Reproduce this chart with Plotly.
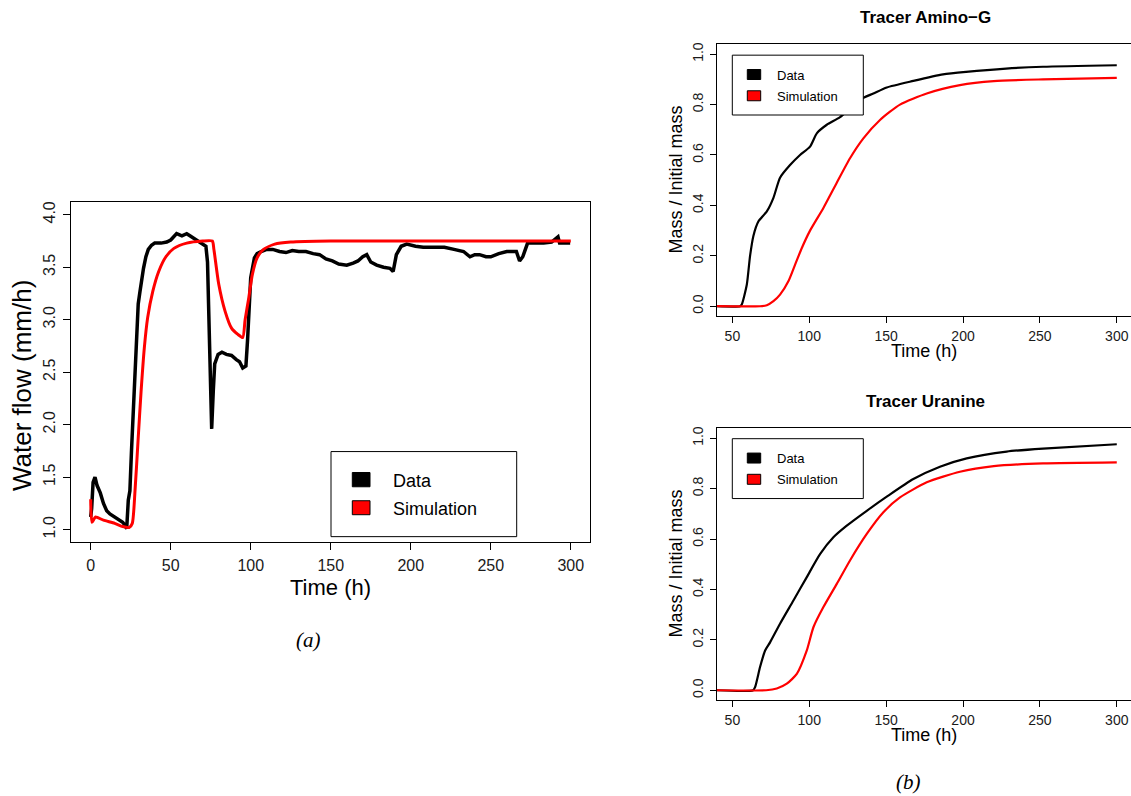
import plotly.graph_objects as go

W, H = 1131, 796

# ---------------- Panel (a): water flow ----------------
flow_time_data = [0, 0.6, 1.5, 2.7, 4, 6, 8, 10, 12, 14, 16, 18, 20, 21.5, 22.5, 23.5, 24.5,
                  25.5, 26.6, 27.6, 28.7, 29.7, 30.8, 32, 33, 34.5, 36, 38, 40, 44, 47.5, 50,
                  53.7, 57, 60, 62, 64, 67, 70, 72, 73, 74, 75, 75.6, 76.6, 77.5, 79.6, 82,
                  84.8, 88, 91, 93, 95, 97, 98, 99, 100, 102.3, 104, 106.5, 110, 113.8, 118,
                  122, 126, 130, 134.5, 139, 143, 147, 151, 155, 160, 164, 167, 170, 172.5,
                  175, 178.7, 183, 187, 189, 191, 194, 197.5, 203, 207.8, 214, 221, 227, 233,
                  237, 240, 243, 247, 250, 255, 260, 266, 268, 270, 273, 278, 283, 288, 292,
                  293, 296, 299.6]
flow_data = [1.12, 1.2, 1.45, 1.50, 1.42, 1.35, 1.25, 1.18, 1.15, 1.13, 1.11, 1.09, 1.07, 1.04,
             1.01, 1.28, 1.37, 1.75, 2.16, 2.55, 2.96, 3.15, 3.27, 3.40, 3.49, 3.60, 3.67, 3.71,
             3.73, 3.73, 3.74, 3.76, 3.82, 3.80, 3.82, 3.80, 3.78, 3.75, 3.72, 3.70, 3.55, 2.80,
             2.30, 1.96, 2.32, 2.58, 2.67, 2.69, 2.67, 2.66, 2.62, 2.60, 2.54, 2.56, 2.80, 3.10,
             3.40, 3.59, 3.63, 3.65, 3.67, 3.67, 3.65, 3.64, 3.66, 3.65, 3.65, 3.63, 3.62, 3.58,
             3.56, 3.53, 3.52, 3.54, 3.56, 3.60, 3.62, 3.55, 3.52, 3.50, 3.49, 3.46, 3.62, 3.70,
             3.72, 3.70, 3.69, 3.69, 3.69, 3.67, 3.65, 3.60, 3.62, 3.62, 3.60, 3.60, 3.63, 3.65,
             3.65, 3.56, 3.60, 3.73, 3.73, 3.73, 3.74, 3.79, 3.73, 3.73, 3.73]

flow_time_sim = [0, 0.8, 3, 8, 15, 20, 24, 26, 27.7, 29.6, 31.5, 33.5, 35.6, 38.8, 42.5, 47, 52,
                 60, 70, 76, 77, 80, 84, 88, 92, 95, 96.5, 98.8, 101, 104, 108, 115, 125, 150,
                 200, 250, 300]
flow_sim = [1.29, 1.07, 1.12, 1.09, 1.06, 1.03, 1.02, 1.06, 1.37, 1.85, 2.32, 2.73, 3.02, 3.27,
            3.46, 3.60, 3.68, 3.73, 3.75, 3.75, 3.67, 3.34, 3.08, 2.92, 2.86, 2.83, 3.00, 3.21,
            3.43, 3.59, 3.67, 3.72, 3.74, 3.75, 3.75, 3.75, 3.75]

flow_xticks = [0, 50, 100, 150, 200, 250, 300]
flow_yticks = [1.0, 1.5, 2.0, 2.5, 3.0, 3.5, 4.0]

# ---------------- Panel (b): tracers ----------------
amino_time_data = [40, 55, 56.1, 59.4, 61.5, 63.7, 66.9, 72.4, 76.7, 81, 87.5, 94, 100.5, 104.9,
                   111.4, 120, 133, 141.7, 150.4, 167.7, 187, 202, 228, 252, 300]
amino_data = [0, 0, 0.007, 0.086, 0.20, 0.28, 0.336, 0.376, 0.43, 0.51, 0.56, 0.60, 0.633, 0.686,
              0.72, 0.75, 0.82, 0.844, 0.868, 0.894, 0.92, 0.93, 0.943, 0.95, 0.956]
amino_time_sim = [40, 68, 72.4, 76.7, 81, 86.5, 90.8, 95.1, 100.5, 109.2, 117.9, 126.5, 135.2,
                  146, 159, 176.4, 198, 220, 252, 300]
amino_sim = [0, 0, 0.004, 0.02, 0.046, 0.10, 0.165, 0.23, 0.30, 0.39, 0.49, 0.587, 0.666, 0.739,
             0.80, 0.844, 0.877, 0.893, 0.90, 0.906]

uranine_time_data = [40, 63.5, 64.8, 68, 71.3, 74.5, 81, 89.7, 98.4, 107, 115.7, 124.4, 137.4,
                     150.4, 167.7, 185, 202.4, 228.4, 252, 300]
uranine_data = [0, 0, 0.013, 0.092, 0.158, 0.19, 0.264, 0.356, 0.449, 0.54, 0.607, 0.653, 0.712,
                0.768, 0.838, 0.887, 0.92, 0.947, 0.959, 0.976]
uranine_time_sim = [40, 72, 78.9, 85.4, 92, 98.4, 102.7, 109.2, 117.9, 126.5, 137.4, 148.2, 159,
                    176.4, 198, 220, 252, 300]
uranine_sim = [0, 0, 0.007, 0.026, 0.066, 0.158, 0.25, 0.33, 0.422, 0.515, 0.62, 0.706, 0.765,
               0.825, 0.867, 0.889, 0.90, 0.904]

tracer_xticks = [50, 100, 150, 200, 250, 300]
tracer_yticks = [0.0, 0.2, 0.4, 0.6, 0.8, 1.0]

series_names = ["Data", "Simulation"]
series_colors = ["#000000", "#ff0000"]

FONT = "Liberation Sans, Arial, sans-serif"


def px(x):
    return x / W


def py(y):
    return 1 - y / H


fig = go.Figure()

fig.add_trace(go.Scatter(x=flow_time_data, y=flow_data, mode="lines", name="Data",
                         line=dict(color=series_colors[0], width=3.5), xaxis="x", yaxis="y",
                         showlegend=False))
fig.add_trace(go.Scatter(x=flow_time_sim, y=flow_sim, mode="lines", name="Simulation",
                         line=dict(color=series_colors[1], width=3, shape="spline", smoothing=0.6),
                         xaxis="x", yaxis="y", showlegend=False))

fig.add_trace(go.Scatter(x=amino_time_data, y=amino_data, mode="lines", name="Data",
                         line=dict(color=series_colors[0], width=2.2, shape="spline", smoothing=0.6),
                         xaxis="x2", yaxis="y2", showlegend=False))
fig.add_trace(go.Scatter(x=amino_time_sim, y=amino_sim, mode="lines", name="Simulation",
                         line=dict(color=series_colors[1], width=2.2, shape="spline", smoothing=0.6),
                         xaxis="x2", yaxis="y2", showlegend=False))

fig.add_trace(go.Scatter(x=uranine_time_data, y=uranine_data, mode="lines", name="Data",
                         line=dict(color=series_colors[0], width=2.2, shape="spline", smoothing=0.6),
                         xaxis="x3", yaxis="y3", showlegend=False))
fig.add_trace(go.Scatter(x=uranine_time_sim, y=uranine_sim, mode="lines", name="Simulation",
                         line=dict(color=series_colors[1], width=2.2, shape="spline", smoothing=0.6),
                         xaxis="x3", yaxis="y3", showlegend=False))


def axis_common(size, ticklen, mirror=True):
    return dict(showline=True, mirror=mirror, linecolor="black", linewidth=1,
                ticks="outside", ticklen=ticklen, tickcolor="black", tickwidth=1,
                showgrid=False, zeroline=False,
                tickfont=dict(family=FONT, size=size, color="#1a1a1a"))


layout = dict(
    width=W, height=H, margin=dict(l=0, r=0, t=0, b=0),
    paper_bgcolor="white", plot_bgcolor="white", showlegend=False,
    xaxis=dict(domain=[px(71), px(590)], range=[-12.3, 312], tickvals=flow_xticks,
               anchor="y", ticklabelstandoff=2, **axis_common(16, 7)),
    yaxis=dict(domain=[py(541.6), py(201)], range=[0.88, 4.117], tickvals=flow_yticks,
               tickformat=".1f", tickangle=-90, anchor="x", ticklabelstandoff=2,
               **axis_common(16, 7)),
    xaxis2=dict(domain=[px(717), 1.0], range=[40, 309.25], tickvals=tracer_xticks,
                anchor="y2", ticklabelstandoff=1, **axis_common(14, 6)),
    yaxis2=dict(domain=[py(315), py(42.3)], range=[-0.0396, 1.0396], tickvals=tracer_yticks,
                tickformat=".1f", tickangle=-90, anchor="x2", ticklabelstandoff=1,
                **axis_common(14, 6, mirror=False)),
    xaxis3=dict(domain=[px(717), 1.0], range=[40, 309.25], tickvals=tracer_xticks,
                anchor="y3", ticklabelstandoff=1, **axis_common(14, 6)),
    yaxis3=dict(domain=[py(700), py(427.3)], range=[-0.0396, 1.0396], tickvals=tracer_yticks,
                tickformat=".1f", tickangle=-90, anchor="x3", ticklabelstandoff=1,
                **axis_common(14, 6, mirror=False)),
)
fig.update_layout(**layout)

annotations = []
shapes = []


def text(x, y, s, size, bold=False, angle=0, family=FONT, xanchor="center", italic=False):
    if bold:
        s = "<b>" + s + "</b>"
    if italic:
        s = "<i>" + s + "</i>"
    annotations.append(dict(x=px(x), y=py(y), xref="paper", yref="paper", text=s,
                            showarrow=False, textangle=angle, xanchor=xanchor, yanchor="middle",
                            font=dict(family=family, size=size, color="black")))


# axis titles
text(330, 587, "Time (h)", 22)
text(22, 385, "Water flow (mm/h)", 26, angle=-90)
text(924, 350, "Time (h)", 18)
text(676, 178, "Mass / Initial mass", 18, angle=-90)
text(924, 735, "Time (h)", 18)
text(676, 563, "Mass / Initial mass", 18, angle=-90)

# panel titles
text(925, 16, "Tracer Amino−G", 17, bold=True)
text(925, 401, "Tracer Uranine", 17, bold=True)

# panel labels
text(308, 640, "(a)", 21, family="Liberation Serif, serif", italic=True)
text(908, 782, "(b)", 21, family="Liberation Serif, serif", italic=True)


def legend(box, sq_x, sq_rows, text_x, text_rows, size):
    x0, y0, x1, y1 = box
    shapes.append(dict(type="rect", xref="paper", yref="paper", x0=px(x0), x1=px(x1),
                       y0=py(y0), y1=py(y1), line=dict(color="black", width=1),
                       fillcolor="white", layer="above"))
    for (ya, yb), name, col in zip(sq_rows, series_names, series_colors):
        shapes.append(dict(type="rect", xref="paper", yref="paper", x0=px(sq_x[0]),
                           x1=px(sq_x[1]), y0=py(ya), y1=py(yb),
                           line=dict(color="black", width=1), fillcolor=col, layer="above"))
    for ty, name in zip(text_rows, series_names):
        text(text_x, ty, name, size, xanchor="left")


legend((331, 450.7, 516.7, 536), (352.3, 370), [(471.7, 486), (500, 514)], 391, [480, 508], 18)
legend((732.3, 53.3, 863.3, 113.3), (747.3, 760.7), [(67.7, 77.7), (89, 99)], 775, [73.3, 94.3], 13)
legend((732.3, 437.8, 863.3, 497.8), (747.3, 760.7), [(452.2, 462.2), (473.5, 483.5)], 775,
       [457.8, 478.8], 13)

fig.update_layout(annotations=annotations, shapes=shapes)

fig.write_html("out.html", config={"displayModeBar": False},
               post_script="document.body.style.margin='0px';document.body.style.overflow='hidden';")
